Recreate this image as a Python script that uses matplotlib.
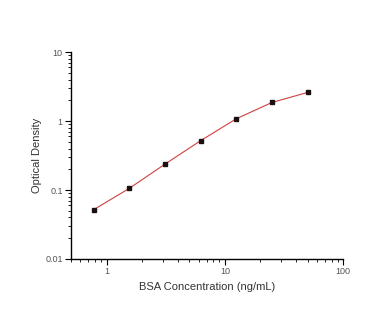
import numpy as np
import matplotlib.pyplot as plt

plt.rcParams['font.family'] = ['Liberation Sans', 'DejaVu Sans']

# Standard curve data
conc = [0.78, 1.56, 3.125, 6.25, 12.5, 25, 50]
od = [0.052, 0.106, 0.238, 0.52, 1.08, 1.86, 2.6]

fig = plt.figure(figsize=(3.89, 3.32), dpi=100)
ax = fig.add_axes([0.1825, 0.22, 0.6995, 0.623])

ax.plot(conc, od, color='#d04040', lw=0.8, zorder=2)
ax.plot(conc, od, 's', color='#1a1010', ms=3.2, zorder=3)

ax.set_xscale('log')
ax.set_yscale('log')
ax.set_xlim(0.5, 100)
ax.set_ylim(0.01, 10)
ax.set_xticks([1, 10, 100])
ax.set_xticklabels(['1', '10', '100'])
ax.set_yticks([0.01, 0.1, 1, 10])
ax.set_yticklabels(['0.01', '0.1', '1', '10'])

for s in ['top', 'right']:
    ax.spines[s].set_visible(False)
for s in ['left', 'bottom']:
    ax.spines[s].set_linewidth(1.0)

ax.tick_params(which='major', direction='out', length=4, width=0.8,
               labelsize=6.5, labelcolor='#555555', pad=2)
ax.tick_params(which='minor', direction='out', length=2, width=0.6)

ax.set_xlabel('BSA Concentration (ng/mL)', fontsize=8, color='#333333', labelpad=4)
ax.set_ylabel('Optical Density', fontsize=8, color='#333333', labelpad=2)

fig.savefig('out.png', dpi=100, facecolor='white')
